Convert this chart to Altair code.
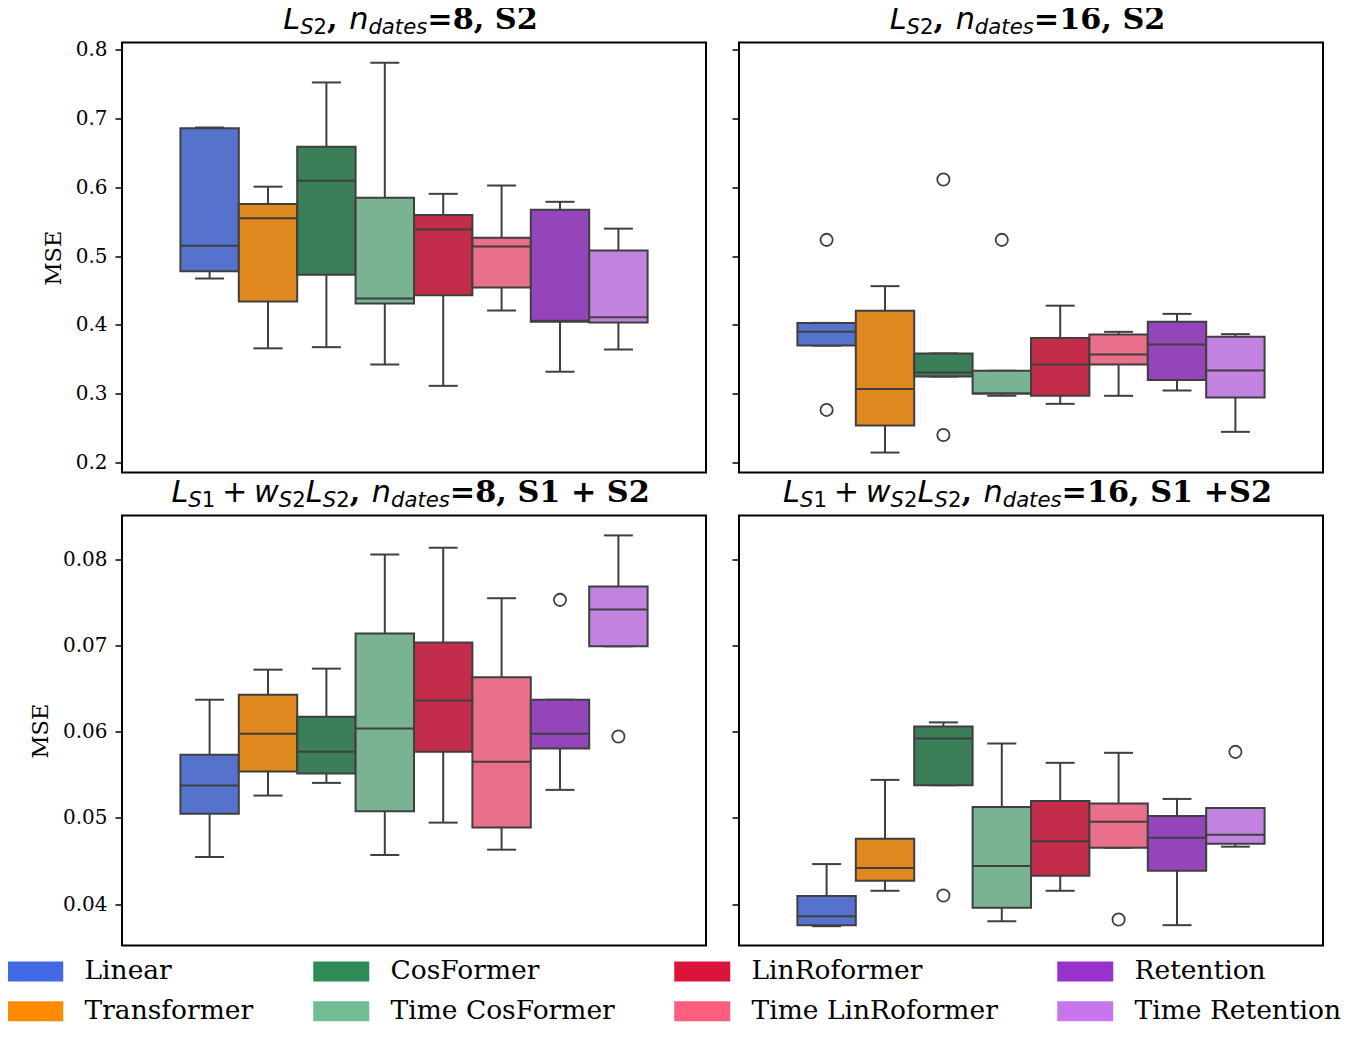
import altair as alt
import pandas as pd

# ---------------- data ----------------
models = ["Linear", "Transformer", "CosFormer", "Time CosFormer",
          "LinRoformer", "Time LinRoformer", "Retention", "Time Retention"]
box_fill = ["#5573CD", "#DF891F", "#3A7F58", "#7AB392",
            "#C32D4B", "#E8708A", "#9345B9", "#C283E0"]
legend_fill = ["#4169E1", "#FF8C00", "#2E8B57", "#72BC94",
               "#DC143C", "#FD5D7E", "#9932CC", "#C875EF"]

# top-left: L_S2, n_dates=8, S2
tl_lo = [0.4675, 0.366, 0.3677, 0.3425, 0.3115, 0.421, 0.332, 0.3643]
tl_q1 = [0.478, 0.434, 0.473, 0.431, 0.443, 0.4544, 0.4045, 0.4035]
tl_med = [0.515, 0.555, 0.6095, 0.4384, 0.5388, 0.514, 0.406, 0.4113]
tl_q3 = [0.686, 0.576, 0.659, 0.585, 0.560, 0.5267, 0.5674, 0.5083]
tl_hi = [0.687, 0.601, 0.7525, 0.781, 0.5906, 0.6027, 0.579, 0.540]
tl_out_model = []
tl_out_val = []

# top-right: L_S2, n_dates=16, S2
tr_lo = [0.370, 0.2145, 0.325, 0.297, 0.2853, 0.297, 0.3047, 0.2446]
tr_q1 = [0.370, 0.2538, 0.325, 0.3003, 0.297, 0.3425, 0.320, 0.2945]
tr_med = [0.390, 0.307, 0.331, 0.3003, 0.3425, 0.357, 0.3716, 0.3337]
tr_q3 = [0.403, 0.4205, 0.3585, 0.3333, 0.381, 0.386, 0.4045, 0.3827]
tr_hi = [0.403, 0.4564, 0.3585, 0.3333, 0.428, 0.390, 0.4161, 0.3866]
tr_out_model = ["Linear", "Linear", "CosFormer", "CosFormer", "Time CosFormer"]
tr_out_val = [0.5237, 0.2765, 0.6115, 0.240, 0.5237]

# bottom-left: L_S1 + w_S2 L_S2, n_dates=8, S1 + S2
bl_lo = [0.04547, 0.0526, 0.05407, 0.0457, 0.04946, 0.04632, 0.05326, 0.06992]
bl_q1 = [0.0505, 0.05539, 0.05516, 0.05078, 0.05767, 0.04888, 0.05806, 0.06992]
bl_med = [0.05376, 0.05977, 0.05767, 0.06039, 0.06364, 0.05651, 0.05977, 0.07419]
bl_q3 = [0.05733, 0.0643, 0.06174, 0.0714, 0.07035, 0.06632, 0.06372, 0.07686]
bl_hi = [0.06372, 0.06721, 0.06733, 0.08058, 0.08136, 0.0755, 0.06372, 0.08279]
bl_out_model = ["Retention", "Time Retention"]
bl_out_val = [0.07531, 0.05946]

# bottom-right: L_S1 + w_S2 L_S2, n_dates=16, S1 +S2
br_lo = [0.03744, 0.04155, 0.0538, 0.03802, 0.04155, 0.04655, 0.03756, 0.04667]
br_q1 = [0.03756, 0.04271, 0.0538, 0.03957, 0.0433, 0.04655, 0.04388, 0.04702]
br_med = [0.0386, 0.04419, 0.05922, 0.04442, 0.04729, 0.04957, 0.04771, 0.04806]
br_q3 = [0.04093, 0.0476, 0.06062, 0.05128, 0.05198, 0.05167, 0.05023, 0.05116]
br_hi = [0.04465, 0.05442, 0.06109, 0.05864, 0.0564, 0.05756, 0.05221, 0.05116]
br_out_model = ["CosFormer", "Time LinRoformer", "Time Retention"]
br_out_val = [0.041, 0.03822, 0.05767]

top_domain = [0.1855, 0.8106]
top_ticks = [0.2, 0.3, 0.4, 0.5, 0.6, 0.7, 0.8]
bot_domain = [0.0352, 0.0851]
bot_ticks = [0.04, 0.05, 0.06, 0.07, 0.08]

# ---------------- styling ----------------
W, H = 584, 430
LC = "#3f3f3f"
TITLE_F = 30.3
SUB_F = TITLE_F * 0.7
TITLE_Y = -14
SUB_DY = 5.5

SANS = {'L': 1141, 'S': 1300, '1': 1303, '2': 1303, '6': 1303, '8': 1303, 'n': 1298,
        'd': 1300, 'a': 1255, 't': 803, 'e': 1260, 's': 1067, 'w': 1675, ',': 651,
        ' ': 651, '+': 1716, '=': 1716}
SERIF_B = {'1': 1425, '2': 1425, '6': 1425, '8': 1425, 'S': 1473, ',': 780, ' ': 713,
           '+': 1716, '=': 1716}

STYLES = {
    "it": dict(font="DejaVu Sans", fontStyle="italic", fontWeight="normal", size=TITLE_F, dy=0, tab=SANS),
    "rm": dict(font="DejaVu Sans", fontStyle="normal", fontWeight="normal", size=TITLE_F, dy=0, tab=SANS),
    "sit": dict(font="DejaVu Sans", fontStyle="italic", fontWeight="normal", size=SUB_F, dy=SUB_DY, tab=SANS),
    "srm": dict(font="DejaVu Sans", fontStyle="normal", fontWeight="normal", size=SUB_F, dy=SUB_DY, tab=SANS),
    "bf": dict(font="DejaVu Serif", fontStyle="normal", fontWeight="bold", size=TITLE_F, dy=0, tab=SERIF_B),
}


def title_layers(pieces):
    widths = []
    for txt, st in pieces:
        if st == "space":
            widths.append(0.222 * TITLE_F)
        else:
            s = STYLES[st]
            widths.append(sum(s["tab"][c] for c in txt) / 2048.0 * s["size"])
    x = W / 2 - 3 - sum(widths) / 2
    layers = []
    for (txt, st), w in zip(pieces, widths):
        if st != "space":
            s = STYLES[st]
            layers.append(
                alt.Chart(pd.DataFrame({"t": [txt]})).mark_text(
                    align="left", baseline="alphabetic", font=s["font"], fontSize=s["size"],
                    fontStyle=s["fontStyle"], fontWeight=s["fontWeight"], color="black"
                ).encode(text="t:N", x=alt.value(x), y=alt.value(TITLE_Y + s["dy"]))
            )
        x += w
    return layers


def top_title(n):
    return [("L", "it"), ("S", "sit"), ("2", "srm"), (", ", "bf"), ("n", "it"),
            ("dates", "sit"), ("=" + n + ", S2", "bf")]


def bottom_title(n, tail):
    return [("L", "it"), ("S", "sit"), ("1", "srm"), ("", "space"), ("+", "rm"), ("", "space"),
            ("w", "it"), ("S", "sit"), ("2", "srm"), ("L", "it"), ("S", "sit"), ("2", "srm"),
            (", ", "bf"), ("n", "it"), ("dates", "sit"), ("=" + n + ", " + tail, "bf")]


def panel(lo, q1, med, q3, hi, out_m, out_v, domain, ticks, fmt, show_labels, pieces, with_legend=False):
    df = pd.DataFrame({"model": models, "lo": lo, "q1": q1, "med": med, "q3": q3, "hi": hi})
    xs = alt.X("model:N", scale=alt.Scale(type="band", domain=models, paddingInner=0, paddingOuter=1),
               axis=None)
    ysc = alt.Scale(domain=domain, zero=False, nice=False)
    yax = alt.Axis(values=ticks, format=fmt, labels=show_labels, grid=False, domain=False,
                   tickColor="black", tickWidth=1.5, tickSize=7, labelPadding=8,
                   labelFont="DejaVu Serif", labelFontSize=20, labelColor="black",
                   titleFont="DejaVu Serif", titleFontSize=22.5, titleFontWeight="normal",
                   titleColor="black", titlePadding=10)
    ttl = "MSE" if show_labels else ""

    def Y(f):
        return alt.Y(f, scale=ysc, axis=yax, title=ttl)

    base = alt.Chart(df)
    layers = []
    if with_legend:
        leg = alt.Legend(title=None, orient="none", legendX=-118, legendY=915.5, columns=4,
                         symbolType="M-1,-1H4.6V1H-1Z", symbolSize=400, symbolStrokeWidth=0,
                         symbolOpacity=1, labelFont="DejaVu Serif", labelFontSize=26.5,
                         labelColor="black", labelOffset=54, columnPadding=56, rowPadding=13,
                         padding=0, labelLimit=500)
        layers.append(
            alt.Chart(pd.DataFrame({"model": models})).mark_square(opacity=0, size=1).encode(
                x=xs, y=alt.value(0),
                color=alt.Color("model:N", scale=alt.Scale(domain=models, range=legend_fill),
                                legend=leg))
        )
    layers.append(base.mark_rule(color=LC, strokeWidth=2).encode(x=xs, y=Y("lo:Q"), y2="hi:Q"))
    layers.append(base.mark_tick(color=LC, thickness=2, size=29, opacity=1).encode(x=xs, y=Y("lo:Q")))
    layers.append(base.mark_tick(color=LC, thickness=2, size=29, opacity=1).encode(x=xs, y=Y("hi:Q")))
    layers.append(base.mark_bar(stroke=LC, strokeWidth=2, opacity=1).encode(
        x=xs, y=Y("q1:Q"), y2="q3:Q",
        fill=alt.Fill("model:N", scale=alt.Scale(domain=models, range=box_fill), legend=None)))
    layers.append(base.mark_tick(color=LC, thickness=2, size=58, opacity=1).encode(x=xs, y=Y("med:Q")))
    if out_m:
        odf = pd.DataFrame({"model": out_m, "v": out_v})
        layers.append(alt.Chart(odf).mark_point(shape="circle", filled=False, color=LC, size=150,
                                                strokeWidth=1.8, opacity=1).encode(x=xs, y=Y("v:Q")))
    layers += title_layers(pieces)
    return alt.layer(*layers).properties(width=W, height=H)


tl = panel(tl_lo, tl_q1, tl_med, tl_q3, tl_hi, tl_out_model, tl_out_val, top_domain, top_ticks, ".1f",
           True, top_title("8"), with_legend=True)
tr = panel(tr_lo, tr_q1, tr_med, tr_q3, tr_hi, tr_out_model, tr_out_val, top_domain, top_ticks, ".1f",
           False, top_title("16"))
bl = panel(bl_lo, bl_q1, bl_med, bl_q3, bl_hi, bl_out_model, bl_out_val, bot_domain, bot_ticks, ".2f",
           True, bottom_title("8", "S1 + S2"))
br = panel(br_lo, br_q1, br_med, br_q3, br_hi, br_out_model, br_out_val, bot_domain, bot_ticks, ".2f",
           False, bottom_title("16", "S1 +S2"))

chart = alt.concat(tl, tr, bl, br, columns=2, spacing={"row": 43, "column": 33}, bounds="flush").resolve_scale(
    y="independent", x="independent", color="shared", fill="shared"
).properties(
    padding={"left": -4, "top": -4.5, "right": 0, "bottom": 0}, background="white"
).configure_view(stroke="black", strokeWidth=2)

chart.save("out.html", embed_options={"renderer": "svg", "actions": False})
